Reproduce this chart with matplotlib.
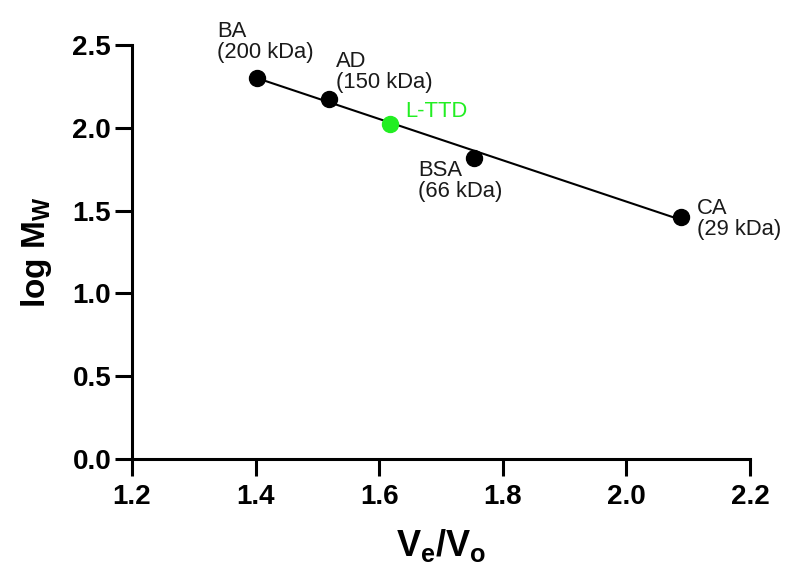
import numpy as np
import matplotlib
matplotlib.use("Agg")
import matplotlib.pyplot as plt

plt.rcParams['font.family'] = ['Liberation Sans', 'DejaVu Sans']
plt.rcParams['mathtext.fontset'] = 'custom'
plt.rcParams['mathtext.rm'] = 'Liberation Sans'
plt.rcParams['mathtext.bf'] = 'Liberation Sans:bold'
plt.rcParams['mathtext.it'] = 'Liberation Sans:italic'

# Standards
std_names = ["BA\n(200 kDa)", "AD\n(150 kDa)", "BSA\n(66 kDa)", "CA\n(29 kDa)"]
std_ve_vo = [1.403, 1.519, 1.754, 2.088]
std_logmw = [2.301, 2.176, 1.820, 1.462]

# Sample
sample_name = "L-TTD"
sample_ve_vo = [1.618]
sample_logmw = [2.025]

xticks = [1.2, 1.4, 1.6, 1.8, 2.0, 2.2]
yticks = [0.0, 0.5, 1.0, 1.5, 2.0, 2.5]

# label offsets (pixels) and alignment
offsets = [(-40, 15, 'left', 'bottom'), (7, 6, 'left', 'bottom'),
           (-56, -2, 'left', 'top'), (16, 19, 'left', 'top')]

fig = plt.figure(figsize=(7.85, 5.75), dpi=100)
ax = fig.add_axes([132/785, 116/575, 618/785, 414/575])

# regression line through standards
coef = np.polyfit(std_ve_vo, std_logmw, 1)
xl = np.array([min(std_ve_vo), max(std_ve_vo)])
ax.plot(xl, np.polyval(coef, xl), color='black', lw=1.5, zorder=2)

ax.plot(std_ve_vo, std_logmw, 'o', color='black', ms=11.5, zorder=3, clip_on=False)
ax.plot(sample_ve_vo, sample_logmw, 'o', color='#22ee22', ms=11.5, zorder=4, clip_on=False)

for name, x, y, (dx, dy, ha, va) in zip(std_names, std_ve_vo, std_logmw, offsets):
    ax.annotate(name, (x, y), xytext=(dx, dy), textcoords='offset pixels',
                ha=ha, va=va, fontsize=15.8, color='#1a1a1a', linespacing=1.0)
ax.annotate(sample_name, (sample_ve_vo[0], sample_logmw[0]), xytext=(15, 12),
            textcoords='offset pixels', ha='left', va='center', fontsize=15.8,
            color='#22ee22')

ax.set_xlim(1.2, 2.2)
ax.set_ylim(0, 2.5)
ax.set_xticks(xticks)
ax.set_yticks(yticks)
ax.set_xticklabels([f"{v:.1f}" for v in xticks], fontweight='bold', fontsize=20)
ax.set_yticklabels([f"{v:.1f}" for v in yticks], fontweight='bold', fontsize=20)
ax.tick_params(width=2.2, length=12, color='black')
ax.tick_params(axis='y', pad=3)
ax.tick_params(axis='x', pad=6)

for s in ['top', 'right']:
    ax.spines[s].set_visible(False)
for s in ['left', 'bottom']:
    ax.spines[s].set_linewidth(2.2)

ax.set_xlabel(r"$\mathbf{V_e/V_o}$", fontsize=26, labelpad=12)
ax.set_ylabel(r"$\mathbf{log\ M_W}$", fontsize=24, labelpad=13)

fig.savefig("out.png", dpi=100)
